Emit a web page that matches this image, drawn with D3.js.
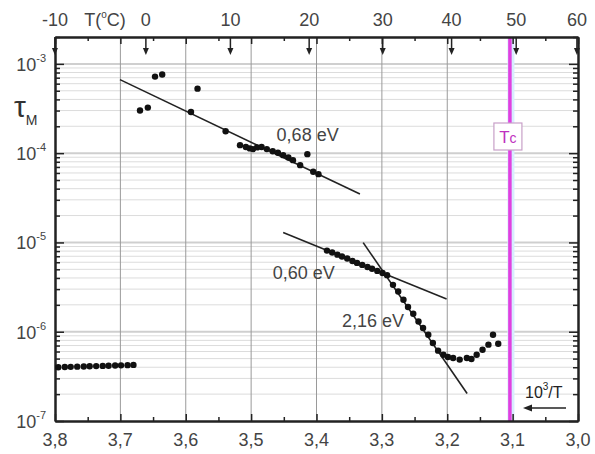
<!DOCTYPE html>
<html><head><meta charset="utf-8">
<script src="https://cdn.jsdelivr.net/npm/d3@7"></script>
<style>body{margin:0;background:#fff}svg{display:block}text{font-family:"Liberation Sans",Arial,sans-serif}</style>
</head><body>
<svg id="c" width="595" height="454"></svg>
<script>
// ---- data ----
const xMajorTicks = [3.8,3.7,3.6,3.5,3.4,3.3,3.2,3.1,3.0];
const xMinorTicks = [3.75,3.65,3.55,3.45,3.35,3.25,3.15,3.05];
const tempTicks = [-10,0,10,20,30,40,50,60];
const yDecades = [1e-3,1e-4,1e-5,1e-6,1e-7];
const yDecadeExp = [-3,-4,-5,-6,-7];
const Tc = 49; // °C

const lowTPoints = [[3.795,4.0e-7],[3.785,4.02e-7],[3.776,4.04e-7],[3.766,4.06e-7],[3.756,4.08e-7],[3.747,4.1e-7],[3.737,4.12e-7],[3.727,4.14e-7],[3.718,4.16e-7],[3.708,4.18e-7],[3.699,4.2e-7],[3.689,4.22e-7],[3.680,4.25e-7]];
const phase1Points = [[3.670,3.0e-4],[3.658,3.24e-4],[3.647,7.2e-4],[3.636,7.6e-4],[3.592,2.89e-4],[3.582,5.28e-4],[3.539,1.76e-4],
  [3.517,1.23e-4],[3.508,1.17e-4],[3.502,1.13e-4],[3.497,1.11e-4],[3.491,1.16e-4],[3.484,1.17e-4],[3.476,1.11e-4],[3.467,1.05e-4],[3.459,1.01e-4],[3.451,9.5e-5],[3.443,8.95e-5],[3.436,8.35e-5],[3.425,7.34e-5],[3.414,9.75e-5],[3.405,6.18e-5],[3.397,5.82e-5]];
const phase2Points = [[3.384,8.1e-6],[3.376,7.7e-6],[3.368,7.3e-6],[3.361,6.95e-6],[3.353,6.6e-6],[3.345,6.2e-6],[3.338,5.9e-6],[3.330,5.6e-6],[3.322,5.3e-6],[3.315,5.07e-6],[3.307,4.8e-6],[3.299,4.55e-6],[3.292,4.3e-6],
  [3.283,3.35e-6],[3.275,2.82e-6],[3.267,2.28e-6],[3.260,1.89e-6],[3.252,1.59e-6],[3.244,1.30e-6],[3.237,1.10e-6],[3.229,9.25e-7],[3.222,7.48e-7],[3.214,6.14e-7],[3.206,5.53e-7],[3.199,5.21e-7],[3.191,5.08e-7],[3.181,4.87e-7],[3.170,5.08e-7],[3.163,4.95e-7],[3.155,5.53e-7],[3.146,6.29e-7],[3.137,7.16e-7],[3.130,9.25e-7],[3.122,7.34e-7]];
const fitLines = [
  {label:"0,68 eV", pts:[[3.7006,6.66e-4],[3.3336,3.48e-5]], lx:3.461, ly:1.36e-4},
  {label:"0,60 eV", pts:[[3.451,1.29e-5],[3.201,2.32e-6]], lx:3.467, ly:3.91e-6},
  {label:"2,16 eV", pts:[[3.3286,9.95e-6],[3.1696,2.03e-7]], lx:3.361, ly:1.14e-6}
];

// ---- chart ----
const svg = d3.select("#c");
const L=55,R=578,T=37,B=421;
const x = d3.scaleLinear().domain([3.8,3.0]).range([L,R]);
const y = d3.scaleLog().domain([1e-7,2e-3]).range([B,T]);
const inv = t => 1000/(t+273.15);
const fmt = d => d.toFixed(1).replace('.',',');

// minor y values
const yMinor = [];
for (let e=-7;e<=-3;e++) for (let m=2;m<=9;m++){ const v=m*Math.pow(10,e); if (v<=2e-3+1e-12) yMinor.push(v); }

// grid
const g = svg.append("g");
g.selectAll(".hm").data(yMinor).join("line").attr("x1",L).attr("x2",R)
  .attr("y1",d=>y(d)).attr("y2",d=>y(d)).attr("stroke","#dcdcdc").attr("stroke-width",1);
g.selectAll(".hM").data(yDecades.slice(0,4)).join("line").attr("x1",L).attr("x2",R)
  .attr("y1",d=>y(d)).attr("y2",d=>y(d)).attr("stroke","#cfcfcf").attr("stroke-width",2);
g.selectAll(".v").data(xMajorTicks.slice(1,-1)).join("line").attr("y1",T).attr("y2",B)
  .attr("x1",d=>x(d)).attr("x2",d=>x(d)).attr("stroke","#9a9a9a").attr("stroke-width",1);

// Tc line
svg.append("line").attr("x1",x(inv(Tc))+1).attr("x2",x(inv(Tc))+1).attr("y1",T).attr("y2",B)
  .attr("stroke","#d8ecff").attr("stroke-width",7);
svg.append("line").attr("x1",x(inv(Tc))).attr("x2",x(inv(Tc))).attr("y1",T).attr("y2",B)
  .attr("stroke","#e040e0").attr("stroke-width",3.5);

// axes
function styleAxis(sel){ sel.selectAll(".domain").attr("stroke","#222").attr("stroke-width",2);
  sel.selectAll(".tick line").attr("stroke","#222").attr("stroke-width",1.5); sel.selectAll("text").remove(); }
svg.append("g").attr("transform",`translate(0,${B})`).call(d3.axisBottom(x).tickValues(xMinorTicks).tickSize(-4).tickSizeOuter(0)).call(styleAxis);
svg.append("g").attr("transform",`translate(0,${B})`).call(d3.axisBottom(x).tickValues(xMajorTicks).tickSize(-7).tickSizeOuter(0)).call(styleAxis);
svg.append("g").attr("transform",`translate(0,${T})`).call(d3.axisTop(x).tickValues(xMinorTicks).tickSize(-4).tickSizeOuter(0)).call(styleAxis);
svg.append("g").attr("transform",`translate(0,${T})`).call(d3.axisTop(x).tickValues(xMajorTicks).tickSize(-7).tickSizeOuter(0)).call(styleAxis);
svg.append("g").attr("transform",`translate(${L},0)`).call(d3.axisLeft(y).tickValues(yMinor).tickSize(-5).tickSizeOuter(0)).call(styleAxis);
svg.append("g").attr("transform",`translate(${L},0)`).call(d3.axisLeft(y).tickValues(yDecades).tickSize(-9).tickSizeOuter(0)).call(styleAxis);
svg.append("g").attr("transform",`translate(${R},0)`).call(d3.axisRight(y).tickValues(yMinor).tickSize(-5).tickSizeOuter(0)).call(styleAxis);
svg.append("g").attr("transform",`translate(${R},0)`).call(d3.axisRight(y).tickValues(yDecades).tickSize(-9).tickSizeOuter(0)).call(styleAxis);

// bottom labels
svg.append("g").selectAll("text").data(xMajorTicks).join("text").attr("x",d=>x(d)).attr("y",446)
  .attr("text-anchor","middle").attr("font-size",18).attr("fill","#444").text(fmt);
// left labels
const yl = svg.append("g").selectAll("text").data(yDecades).join("text").attr("x",46).attr("y",d=>y(d)+7)
  .attr("text-anchor","end").attr("fill","#444").attr("font-size",18);
yl.append("tspan").text("10");
yl.append("tspan").attr("font-size",11).attr("dy",-9).text((d,i)=>yDecadeExp[i]);
// top temperature labels
svg.append("g").selectAll("text").data(tempTicks).join("text").attr("x",d=>x(inv(d))).attr("y",26)
  .attr("text-anchor","middle").attr("font-size",18).attr("fill","#444").text(d=>d);
const tl = svg.append("text").attr("x",105).attr("y",26).attr("text-anchor","middle").attr("font-size",18).attr("fill","#444");
tl.append("tspan").text("T(");
tl.append("tspan").attr("font-size",10).attr("dy",-8).text("o");
tl.append("tspan").attr("dy",8).text("C)");
// top arrows
const ar = svg.append("g").selectAll("g").data(tempTicks).join("g").attr("transform",d=>`translate(${x(inv(d))},0)`);
ar.append("line").attr("y1",T).attr("y2",52).attr("stroke","#222").attr("stroke-width",1.5);
ar.append("path").attr("d",`M-3,${48} L3,${48} L0,${55} Z`).attr("fill","#222");

// tau label
const tau = svg.append("text").attr("x",14).attr("y",117).attr("fill","#333").attr("font-size",30);
tau.append("tspan").text("τ");
tau.append("tspan").attr("font-size",14).attr("dy",8).text("M");

// fit lines
const line = d3.line().x(d=>x(d[0])).y(d=>y(d[1]));
svg.append("g").selectAll("path").data(fitLines).join("path").attr("d",d=>line(d.pts))
  .attr("fill","none").attr("stroke","#222").attr("stroke-width",1.6);
svg.append("g").selectAll("text").data(fitLines).join("text").attr("x",d=>x(d.lx)).attr("y",d=>y(d.ly))
  .attr("font-size",18).attr("fill","#444").text(d=>d.label);

// points
svg.append("g").selectAll("circle").data(lowTPoints.concat(phase1Points,phase2Points)).join("circle")
  .attr("cx",d=>x(d[0])).attr("cy",d=>y(d[1])).attr("r",3.2).attr("fill","#111");

// Tc box
const tcx = x(inv(Tc));
svg.append("rect").attr("x",tcx-16).attr("y",123).attr("width",28).attr("height",27).attr("fill","#fff").attr("stroke","#c8a0c8").attr("stroke-width",1.2);
const tct = svg.append("text").attr("x",tcx-2).attr("y",143).attr("text-anchor","middle").attr("fill","#c030c0").attr("font-size",17);
tct.append("tspan").text("T");
tct.append("tspan").attr("font-size",14).text("c");

// 10^3/T label and arrow
const xl = svg.append("text").attr("x",525).attr("y",398).attr("fill","#222").attr("font-size",16);
xl.append("tspan").text("10");
xl.append("tspan").attr("font-size",10).attr("dy",-8).text("3");
xl.append("tspan").attr("dy",8).text("/T");
svg.append("line").attr("x1",566).attr("x2",530).attr("y1",408).attr("y2",408).attr("stroke","#222").attr("stroke-width",1.5);
svg.append("path").attr("d","M523,408 L532,404.5 L532,411.5 Z").attr("fill","#222");
</script>
</body></html>
